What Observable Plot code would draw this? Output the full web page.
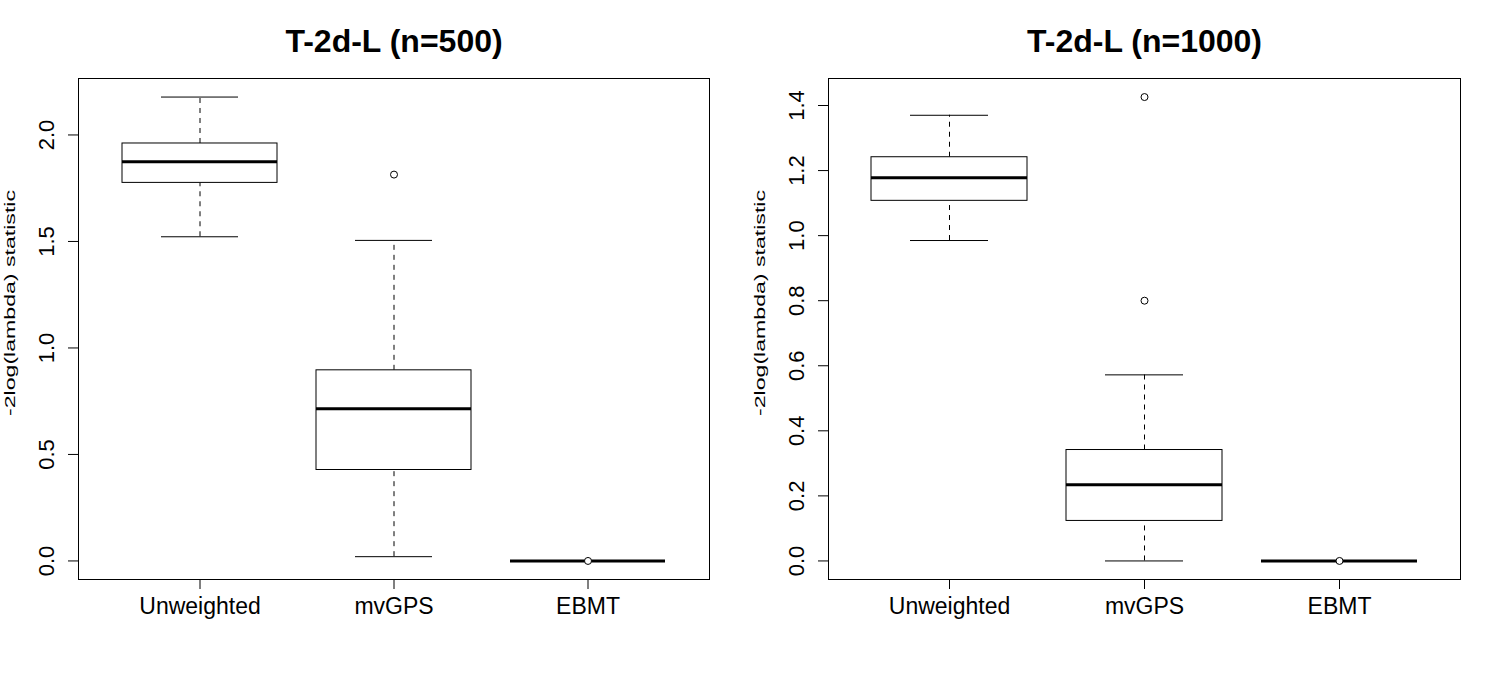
<!DOCTYPE html>
<html><head><meta charset="utf-8">
<script src="https://cdn.jsdelivr.net/npm/d3@7"></script>
<script src="https://cdn.jsdelivr.net/npm/@observablehq/plot@0.6"></script>
<style>
body{margin:0;background:#fff;}
#wrap{display:flex;width:1500px;height:677px;}
</style></head><body><div id="wrap"></div>
<script>
const categories = ["Unweighted", "mvGPS", "EBMT"];
const yLabel = "-2log(lambda) statistic";

// Panel 1: n=500
const title500 = "T-2d-L (n=500)";
const lower500  = [1.522, 0.020, 0];
const q1_500    = [1.775, 0.427, 0];
const median500 = [1.874, 0.714, 0];
const q3_500    = [1.960, 0.895, 0];
const upper500  = [2.178, 1.505, 0];
const outlierCats500 = ["mvGPS", "EBMT"];
const outlierVals500 = [1.814, 0];
const ticks500 = [0, 0.5, 1.0, 1.5, 2.0];

// Panel 2: n=1000
const title1000 = "T-2d-L (n=1000)";
const lower1000  = [0.985, 0.000, 0];
const q1_1000    = [1.107, 0.123, 0];
const median1000 = [1.178, 0.234, 0];
const q3_1000    = [1.241, 0.341, 0];
const upper1000  = [1.370, 0.572, 0];
const outlierCats1000 = ["mvGPS", "mvGPS", "EBMT"];
const outlierVals1000 = [1.426, 0.800, 0];
const ticks1000 = [0, 0.2, 0.4, 0.6, 0.8, 1.0, 1.2, 1.4];

const FONT = '"Liberation Sans", Arial, Helvetica, sans-serif';

function panel({title, lower, q1, median, q3, upper, outCats, outVals, ticks, marginLeft, marginRight}) {
  const boxes = categories.map((c, i) => ({cat: c, lo: lower[i], q1: q1[i], med: median[i], q3: q3[i], hi: upper[i]}));
  const outs = outCats.map((c, i) => ({cat: c, v: outVals[i]}));
  const all = [...lower, ...upper, ...outVals];
  const mn = d3.min(all), mx = d3.max(all), pad = (mx - mn) * 0.04;
  const svg = Plot.plot({
    width: 750, height: 677,
    marginTop: 78, marginBottom: 98, marginLeft, marginRight,
    style: {fontFamily: FONT, background: "white", color: "black"},
    x: {type: "band", domain: categories, paddingInner: 0.2, paddingOuter: 0.22},
    y: {domain: [mn - pad, mx + pad]},
    marks: [
      Plot.ruleX(boxes, {x: "cat", y1: "q3", y2: "hi", stroke: "black", strokeDasharray: "5,5"}),
      Plot.ruleX(boxes, {x: "cat", y1: "lo", y2: "q1", stroke: "black", strokeDasharray: "5,5"}),
      Plot.tickY(boxes, {x: "cat", y: "hi", stroke: "black", insetLeft: 39, insetRight: 39}),
      Plot.tickY(boxes, {x: "cat", y: "lo", stroke: "black", insetLeft: 39, insetRight: 39}),
      Plot.barY(boxes, {x: "cat", y1: "q1", y2: "q3", fill: "white", stroke: "black"}),
      Plot.tickY(boxes, {x: "cat", y: "med", stroke: "black", strokeWidth: 3}),
      Plot.dot(outs, {x: "cat", y: "v", r: 3.5, stroke: "black", fill: "white", strokeWidth: 1}),
      Plot.frame({stroke: "black"}),
      Plot.axisY({ticks, tickFormat: d3.format(".1f"), tickRotate: -90, tickSize: 10, tickPadding: 15, fontSize: 22, label: null}),
      Plot.axisX({tickSize: 10, tickPadding: 8, fontSize: 23, label: null}),
      Plot.text([title], {text: d => d, frameAnchor: "top", dy: -37, fontSize: 32, fontWeight: "bold", lineAnchor: "middle"}),
      Plot.text([yLabel], {text: d => d, frameAnchor: "left", dx: -(marginLeft - 10), dy: 87, rotate: -90, fontSize: 15, textAnchor: "start"})
    ]
  });
  for (const t of svg.querySelectorAll("text")) {
    if (t.textContent === yLabel) {
      t.setAttribute("text-anchor", "start");
      t.setAttribute("textLength", 226);
      t.setAttribute("lengthAdjust", "spacingAndGlyphs");
    }
  }
  return svg;
}

const wrap = document.getElementById("wrap");
wrap.appendChild(panel({title: title500, lower: lower500, q1: q1_500, median: median500, q3: q3_500, upper: upper500,
  outCats: outlierCats500, outVals: outlierVals500, ticks: ticks500, marginLeft: 78, marginRight: 41}));
wrap.appendChild(panel({title: title1000, lower: lower1000, q1: q1_1000, median: median1000, q3: q3_1000, upper: upper1000,
  outCats: outlierCats1000, outVals: outlierVals1000, ticks: ticks1000, marginLeft: 78, marginRight: 40}));
</script></body></html>
